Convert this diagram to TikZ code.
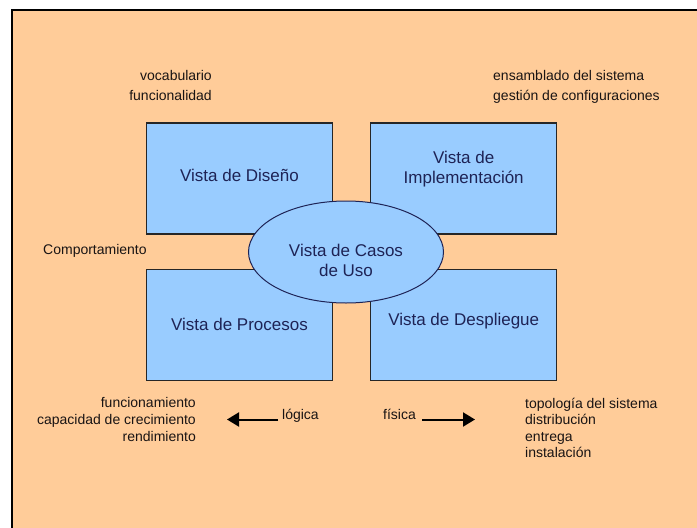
\documentclass[tikz,border=0pt]{standalone}
\usepackage{fontspec}
\setmainfont{Liberation Sans}
\usepackage{tikz}
\usetikzlibrary{shapes.geometric, arrows.meta, positioning}

\definecolor{fondo}{RGB}{255,204,153}
\definecolor{azulvista}{RGB}{153,204,255}
\definecolor{textovista}{RGB}{30,35,85}
\definecolor{textonota}{RGB}{25,20,20}

\begin{document}
\begin{tikzpicture}[
    x=1pt, y=-1pt,
    node distance=34pt and 37pt,
    vista/.style={rectangle, draw=black!85, line width=1.2pt, fill=azulvista, minimum width=186pt, minimum height=111pt, inner sep=0pt},
    casos/.style={ellipse, draw=textovista, line width=1pt, fill=azulvista, minimum width=195pt, minimum height=102pt, inner sep=0pt},
    vistatxt/.style={font=\fontsize{17}{20}\selectfont, text=textovista, align=center, inner sep=0pt},
    nota/.style={font=\fontsize{14}{17}\selectfont, text=textonota, inner sep=0pt},
    flecha/.style={-{Triangle[length=12pt, width=14pt]}, line width=2pt, black}
]
    \useasboundingbox (0,0) rectangle (697,528);
    % 背景
    \fill[fondo] (12,10) rectangle (697,528);
    \draw[line width=1.3pt] (12,528) -- (12,10) -- (697,10);

    % 四个视图
    \node[vista, label={[vistatxt, yshift=3.5pt]center:Vista de Diseño}] (diseno) at (239.5,178.5) {};
    \node[vista, right=of diseno, label={[vistatxt, yshift=9.5pt]center:Vista de\\Implementación}] (implem) {};
    \node[vista, below=of diseno, label={[vistatxt]center:Vista de Procesos}] (procesos) {};
    \node[vista, right=of procesos, label={[vistatxt, yshift=3.5pt]center:Vista de Despliegue}] (despliegue) {};

    % 用例视图
    \node[casos, label={[vistatxt, yshift=-8.6pt]center:Vista de Casos\\de Uso}] (usos) at (346,252) {};

    % 说明文字
    \node[nota, anchor=north east, align=right, font=\fontsize{14}{20}\selectfont] (vocab) at (212,70.5) {vocabulario\\funcionalidad};
    \node[nota, anchor=north west, align=left, font=\fontsize{14}{20}\selectfont] (ensam) at (493,70.5) {ensamblado del sistema\\gestión de configuraciones};
    \node[nota, anchor=base west] (comport) at (43,254.5) {Comportamiento};
    \node[nota, anchor=north east, align=right] (funcion) at (196,397.5) {funcionamiento\\capacidad de crecimiento\\rendimiento};
    \node[nota, anchor=north west, align=left, font=\fontsize{14}{16.5}\selectfont] (topo) at (525,397.5) {topología del sistema\\distribución\\entrega\\instalación};
    \node[nota, anchor=base west] (logica) at (282,419.5) {lógica};
    \node[nota, anchor=base east] (fisica) at (416,419.5) {física};

    % 箭头
    \coordinate (izq) at (227,419.5);
    \coordinate (der) at (475,419.5);
    \draw[flecha, shorten <=4pt] (logica.base west) -- (izq);
    \draw[flecha, shorten <=6pt] (fisica.base east) -- (der);
\end{tikzpicture}
\end{document}
